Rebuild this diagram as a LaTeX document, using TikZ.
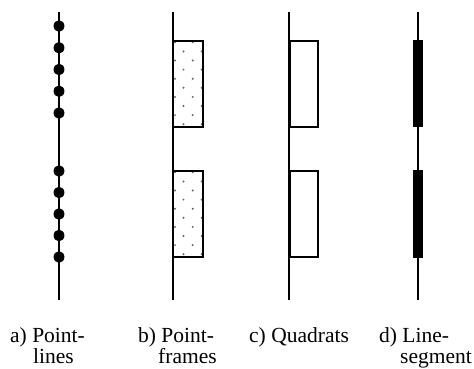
\documentclass[tikz,border=0pt]{standalone}
\usepackage{fontspec}
\setmainfont{Liberation Serif}
\begin{document}
\begin{tikzpicture}[x=1pt,y=-1pt,
  axis/.style={line width=1.6pt},
  frame/.style={draw, line width=1.4pt},
  stipple/.style={fill=black!60},
  bead/.style={fill=black},
  bar/.style={fill=black},
  caption/.style={anchor=base west, inner sep=0pt,
    font=\fontsize{21.5}{22}\selectfont}]
\useasboundingbox (0,0) rectangle (474,368);

% a) point-lines: transect with sampling points
\draw[axis] (59,12) -- (59,300);
\foreach \yy in {26,47.75,69.5,91.25,113,171,192.5,214,235.5,257}
  \fill[bead] (59,\yy) ellipse (5.4pt and 5.8pt);

% b) point-frames: stippled frames along the line
\draw[axis] (173,12) -- (173,300);
\foreach \off in {0,130}{
  \begin{scope}
    \clip (173,41+\off) rectangle (203,127+\off);
    \foreach \k in {0,...,9}{
      \pgfmathsetmacro{\yy}{42.3+9.1*\k+\off}
      \ifodd\k
        \fill[stipple] (183.5,\yy) circle (1.1pt);
        \fill[stipple] (201.7,\yy) circle (1.1pt);
      \else
        \fill[stipple] (175,\yy) circle (1.1pt);
        \fill[stipple] (192.7,\yy) circle (1.1pt);
      \fi
    }
  \end{scope}
  \draw[frame] (173,41+\off) rectangle (203,127+\off);
}

% c) quadrats: empty frames along the line
\draw[axis] (289,12) -- (289,300);
\draw[frame] (290,41) rectangle (318,127);
\draw[frame] (290,171) rectangle (318,257);

% d) line-segments: thick bars on the line
\draw[axis] (418,12) -- (418,300);
\fill[bar] (413,40) rectangle (423,127);
\fill[bar] (413,170) rectangle (423,258);

% captions
\node[caption] (capA1) at (10,342) {a) Point-};
\node[caption] (capA2) at (33,363.5) {lines};
\node[caption] (capB1) at (138,342) {b) Point-};
\node[caption] (capB2) at (158,363.5) {frames};
\node[caption] (capC) at (249,342) {c) Quadrats};
\node[caption] (capD1) at (379,342) {d) Line-};
\node[caption] (capD2) at (400,363.5) {segment};
\end{tikzpicture}
\end{document}
